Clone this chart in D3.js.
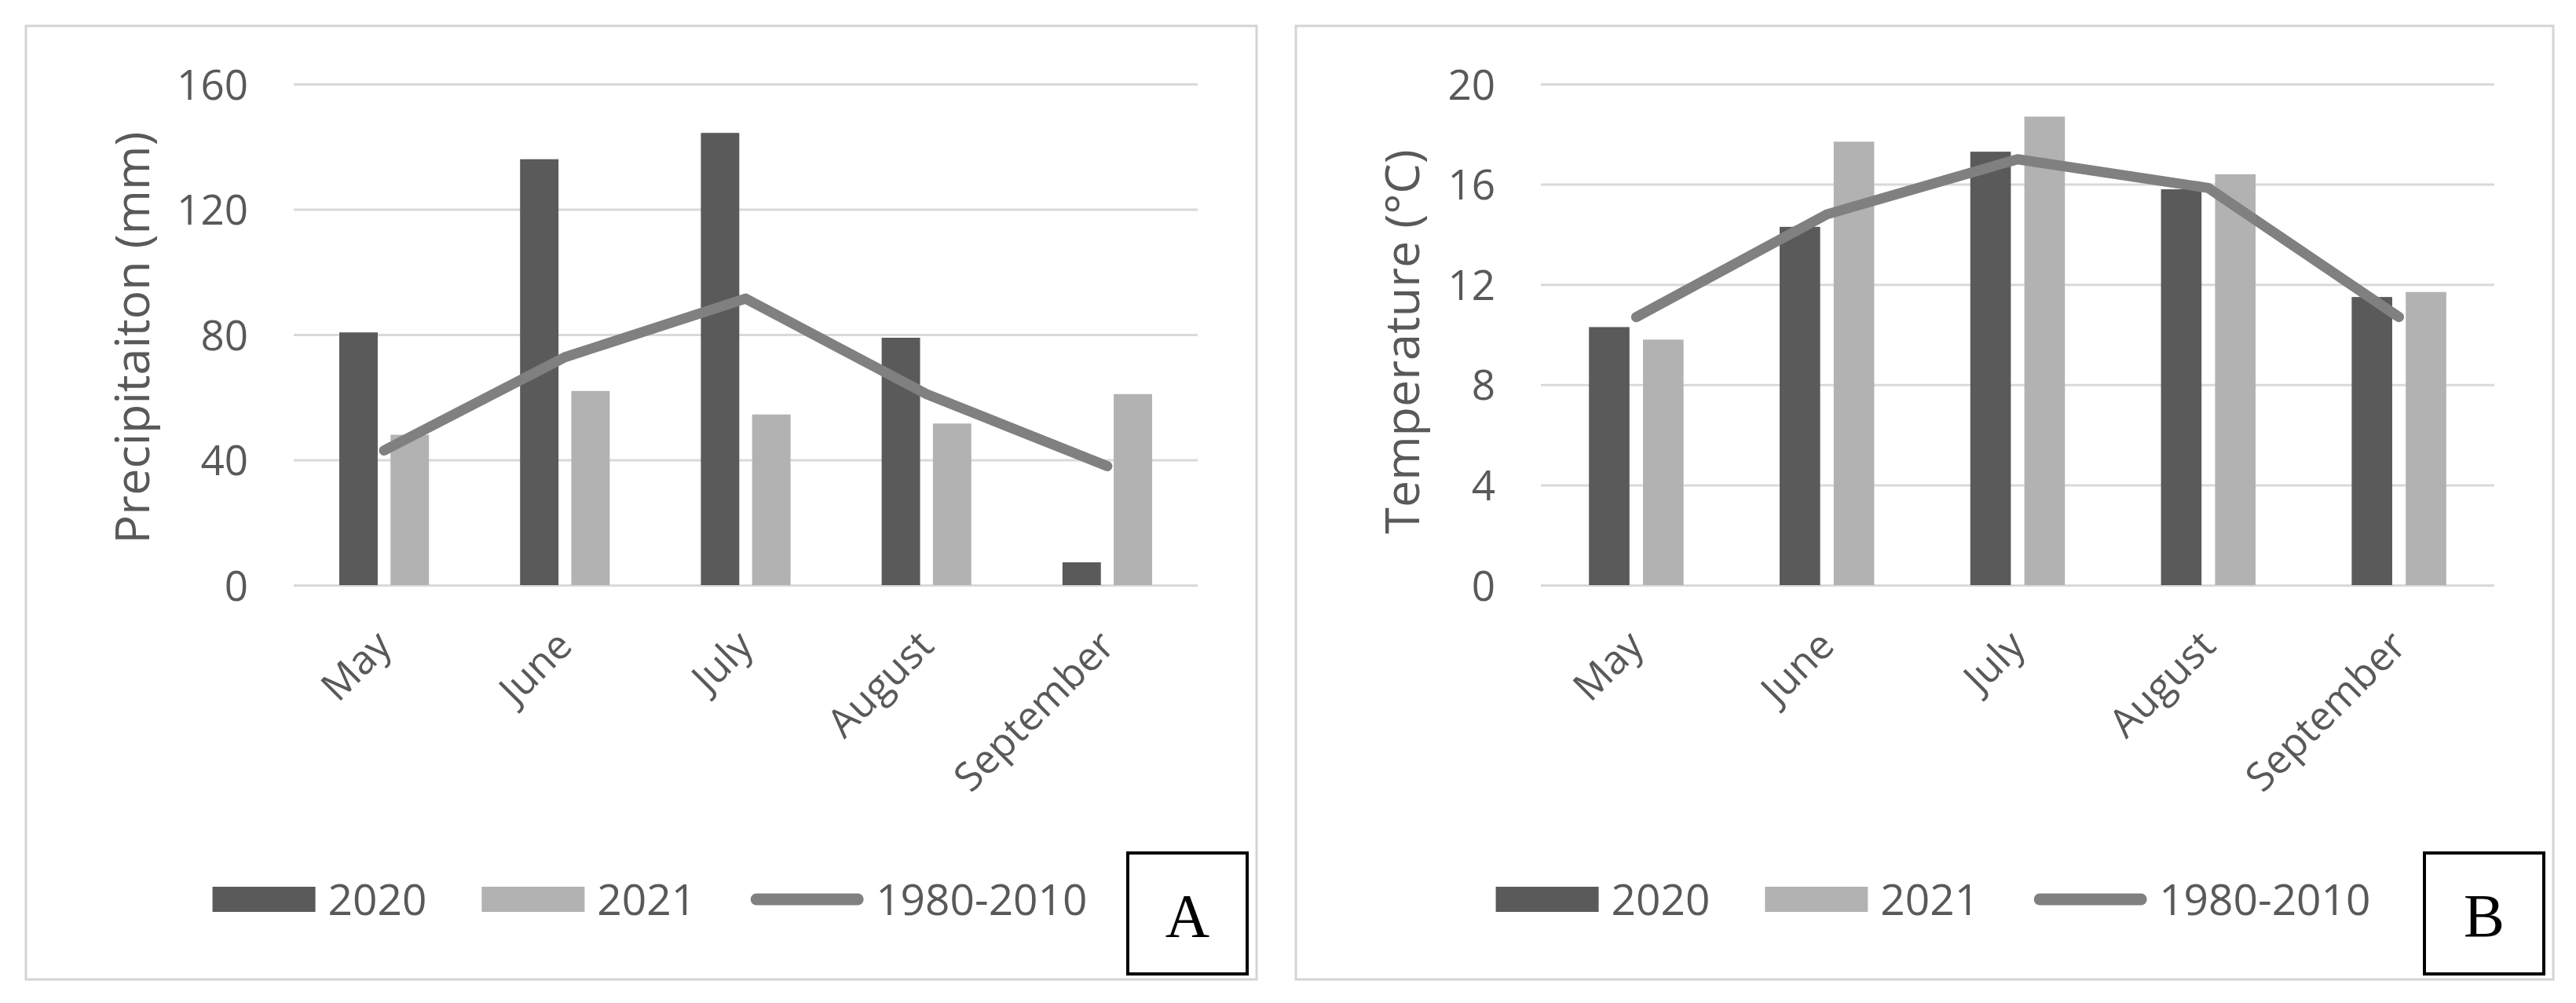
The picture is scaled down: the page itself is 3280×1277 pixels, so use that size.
<!DOCTYPE html>
<html>
<head>
<meta charset="utf-8">
<script src="https://cdn.jsdelivr.net/npm/d3@7"></script>
<style>
  body { margin: 0; background: #fff; }
  text { font-family: "Open Sans", "Noto Sans", sans-serif; fill: #595959; }
</style>
</head>
<body>
<svg id="chart" width="3280" height="1277"></svg>
<script>
// values
const months = ['May', 'June', 'July', 'August', 'September']
const seriesNames = ['2020', '2021', '1980-2010']

const precip2020 = [80.7, 136, 144.4, 79, 7.3]
const precip2021 = [48, 62, 54.5, 51.6, 61]
const precipNormal = [43, 72.8, 91.5, 61, 38]
const precipTicks = [0, 40, 80, 120, 160]

const temp2020 = [10.3, 14.3, 17.3, 15.8, 11.5]
const temp2021 = [9.8, 17.7, 18.7, 16.4, 11.7]
const tempNormal = [10.7, 14.8, 17.0, 15.85, 10.7]
const tempTicks = [0, 4, 8, 12, 16, 20]

let colors = { '2020': '#5a5a5a', '2021': '#b2b2b2', line: '#808080' }

let svg = d3.select('#chart')

let drawPanel = (p) => {
    let g = svg.append('g')

    // panel frame
    g.append('rect')
     .attr('x', p.left).attr('y', 33)
     .attr('width', p.right - p.left).attr('height', 1214)
     .attr('fill', 'none')
     .attr('stroke', '#d4d4d4')
     .attr('stroke-width', 3)

    let x = d3.scaleBand().domain(months).range([p.x0, p.x1])
    let inner = d3.scaleBand().domain(['2020', '2021'])
                  .range([x.bandwidth() * 0.252, x.bandwidth() * 0.748])
                  .paddingInner(0.25)
    let y = d3.scaleLinear().domain([0, d3.max(p.ticks)]).range([745, 107])

    // gridlines
    g.append('g')
     .attr('transform', 'translate(' + p.x0 + ',0)')
     .call(d3.axisLeft(y).tickValues(p.ticks).tickSize(-(p.x1 - p.x0)).tickFormat(''))
     .call(a => a.select('.domain').remove())
     .call(a => a.selectAll('line').attr('stroke', '#d9d9d9').attr('stroke-width', 3))

    // y labels
    g.append('g')
     .attr('transform', 'translate(' + p.x0 + ',0)')
     .call(d3.axisLeft(y).tickValues(p.ticks).tickSize(0).tickPadding(58))
     .call(a => a.select('.domain').remove())
     .call(a => a.selectAll('text')
                 .attr('font-size', 53)
                 .attr('dy', '0.36em'))

    // bars
    let rows = months.map((m, i) => ({ month: m, '2020': p.s2020[i], '2021': p.s2021[i] }))
    g.append('g').selectAll('g')
     .data(rows)
     .enter()
     .append('g')
     .attr('transform', d => 'translate(' + x(d.month) + ',0)')
     .selectAll('rect')
     .data(d => ['2020', '2021'].map(k => ({ key: k, value: d[k] })))
     .enter()
     .append('rect')
     .attr('x', d => inner(d.key))
     .attr('width', inner.bandwidth())
     .attr('y', d => y(d.value))
     .attr('height', d => y(0) - y(d.value))
     .attr('fill', d => colors[d.key])

    // 1980-2010 line
    let line = d3.line()
                 .x((d, i) => x(months[i]) + x.bandwidth() / 2)
                 .y(d => y(d))
    g.append('path')
     .datum(p.normal)
     .attr('d', line)
     .attr('fill', 'none')
     .attr('stroke', colors.line)
     .attr('stroke-width', 13)
     .attr('stroke-linecap', 'round')
     .attr('stroke-linejoin', 'round')

    // month labels, rotated
    g.append('g')
     .attr('transform', 'translate(0,745)')
     .call(d3.axisBottom(x).tickSize(0))
     .call(a => a.select('.domain').remove())
     .call(a => a.selectAll('text')
                 .attr('font-size', 51)
                 .attr('text-anchor', 'end')
                 .attr('x', 0).attr('y', 0).attr('dy', 0)
                 .attr('transform', 'translate(12,80) rotate(-45)'))

    // axis title
    g.append('text')
     .attr('transform', 'translate(' + p.titleX + ',' + p.titleY + ') rotate(-90)')
     .attr('text-anchor', 'middle')
     .attr('dominant-baseline', 'central')
     .attr('font-size', 61)
     .text(p.title)

    // legend
    let lg = g.append('g')
    let cursor = 0
    seriesNames.forEach((name, i) => {
        let item = lg.append('g').attr('transform', 'translate(' + cursor + ',0)')
        let sw = i < 2 ? 131 : 143
        if (i < 2) {
            item.append('rect')
                .attr('x', 0).attr('y', -16)
                .attr('width', sw).attr('height', 32)
                .attr('fill', colors[name])
        } else {
            item.append('line')
                .attr('x1', 7).attr('x2', sw - 7)
                .attr('y1', 0).attr('y2', 0)
                .attr('stroke', colors.line)
                .attr('stroke-width', 15)
                .attr('stroke-linecap', 'round')
        }
        let t = item.append('text')
                    .attr('x', sw + 16)
                    .attr('y', 0)
                    .attr('dy', '0.36em')
                    .attr('font-size', 55)
                    .text(name)
        cursor += sw + 16 + t.node().getComputedTextLength() + 70
    })
    let total = cursor - 70
    lg.attr('transform', 'translate(' + ((p.left + p.right) / 2 + 11 - total / 2) + ',1145)')

    // letter box
    g.append('rect')
     .attr('x', p.right - 164).attr('y', 1086)
     .attr('width', 152).attr('height', 154)
     .attr('fill', '#fff')
     .attr('stroke', '#000')
     .attr('stroke-width', 4)
    g.append('text')
     .attr('x', p.right - 88).attr('y', 1192)
     .attr('text-anchor', 'middle')
     .attr('font-size', 78)
     .style('font-family', '"Liberation Serif", "DejaVu Serif", serif')
     .style('fill', '#000')
     .text(p.letter)
}

drawPanel({
    left: 33, right: 1600, x0: 374, x1: 1525,
    ticks: precipTicks, s2020: precip2020, s2021: precip2021, normal: precipNormal,
    title: 'Precipitaiton (mm)', titleX: 166, titleY: 430, letter: 'A'
})

drawPanel({
    left: 1650, right: 3251, x0: 1962, x1: 3176,
    ticks: tempTicks, s2020: temp2020, s2021: temp2021, normal: tempNormal,
    title: 'Temperature (°C)', titleX: 1783, titleY: 435, letter: 'B'
})
</script>
</body>
</html>
